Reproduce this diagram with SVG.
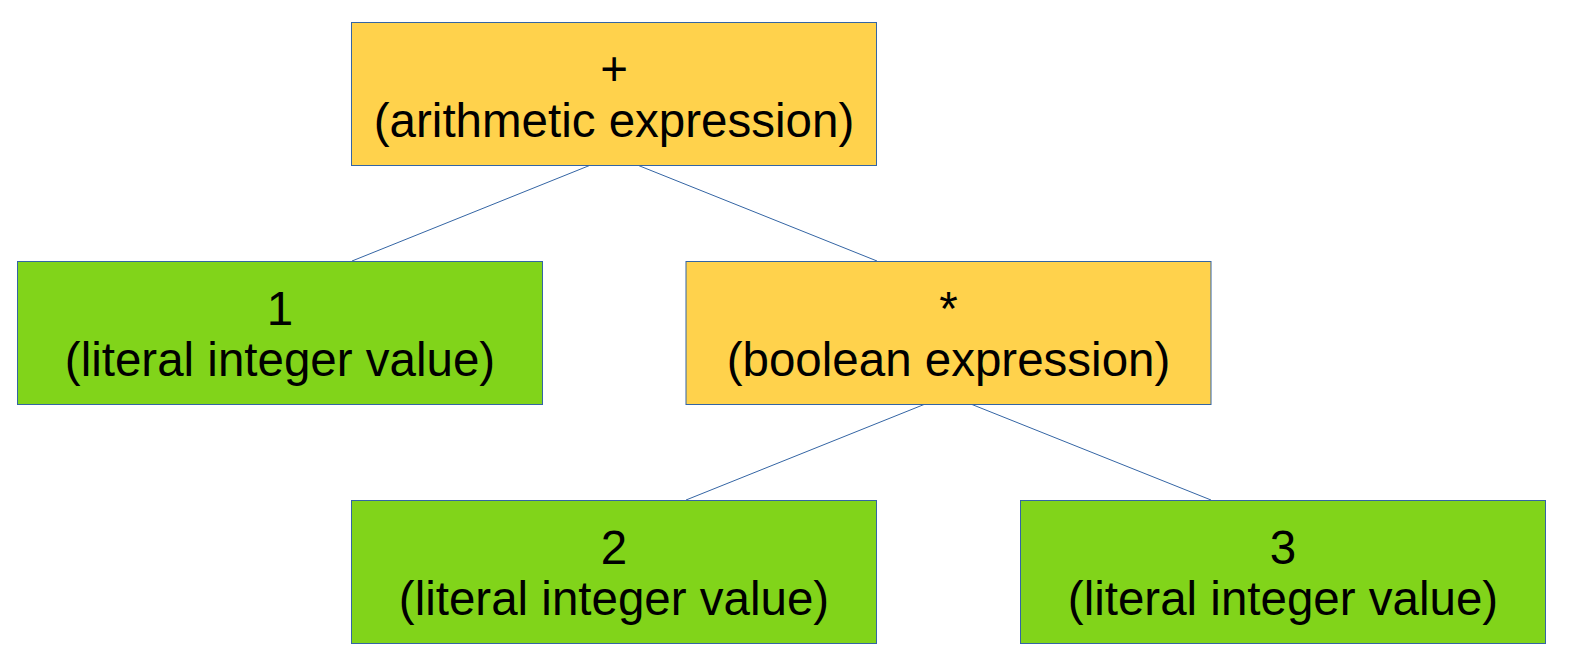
<svg xmlns="http://www.w3.org/2000/svg" width="1576" height="660" viewBox="0 0 1576 660">
<style>
.box{stroke:#3465a4;stroke-width:1}
.op{fill:#ffd24c}
.lit{fill:#81d41a}
.t{font-family:"Liberation Sans",Arial,sans-serif;font-size:47.5px;fill:#000;text-anchor:middle}
.c{stroke:#3465a4;stroke-width:1;fill:none}
</style>
<rect width="1576" height="660" fill="#fff"/>
<g id="connectors">
<line class="c" x1="589.5" y1="165.5" x2="352" y2="261"/>
<line class="c" x1="638.5" y1="165.5" x2="877" y2="261"/>
<line class="c" x1="924" y1="404.5" x2="686" y2="500"/>
<line class="c" x1="972" y1="404.5" x2="1211" y2="500"/>
</g>
<g id="plus">
<rect class="box op" x="351.5" y="22.5" width="525" height="143"/>
<text class="t" x="614" y="85">+</text>
<text class="t" x="614" y="137">(arithmetic expression)</text>
</g>
<g id="lit1">
<rect class="box lit" x="17.5" y="261.5" width="525" height="143"/>
<text class="t" x="280" y="324.5">1</text>
<text class="t" x="280" y="376">(literal integer value)</text>
</g>
<g id="times">
<rect class="box op" x="686" y="261.5" width="525" height="143"/>
<text class="t" x="948.5" y="324.5">*</text>
<text class="t" x="948.5" y="376">(boolean expression)</text>
</g>
<g id="lit2">
<rect class="box lit" x="351.5" y="500.5" width="525" height="143"/>
<text class="t" x="614" y="563.5">2</text>
<text class="t" x="614" y="615">(literal integer value)</text>
</g>
<g id="lit3">
<rect class="box lit" x="1020.5" y="500.5" width="525" height="143"/>
<text class="t" x="1283" y="563.5">3</text>
<text class="t" x="1283" y="615">(literal integer value)</text>
</g>
</svg>
